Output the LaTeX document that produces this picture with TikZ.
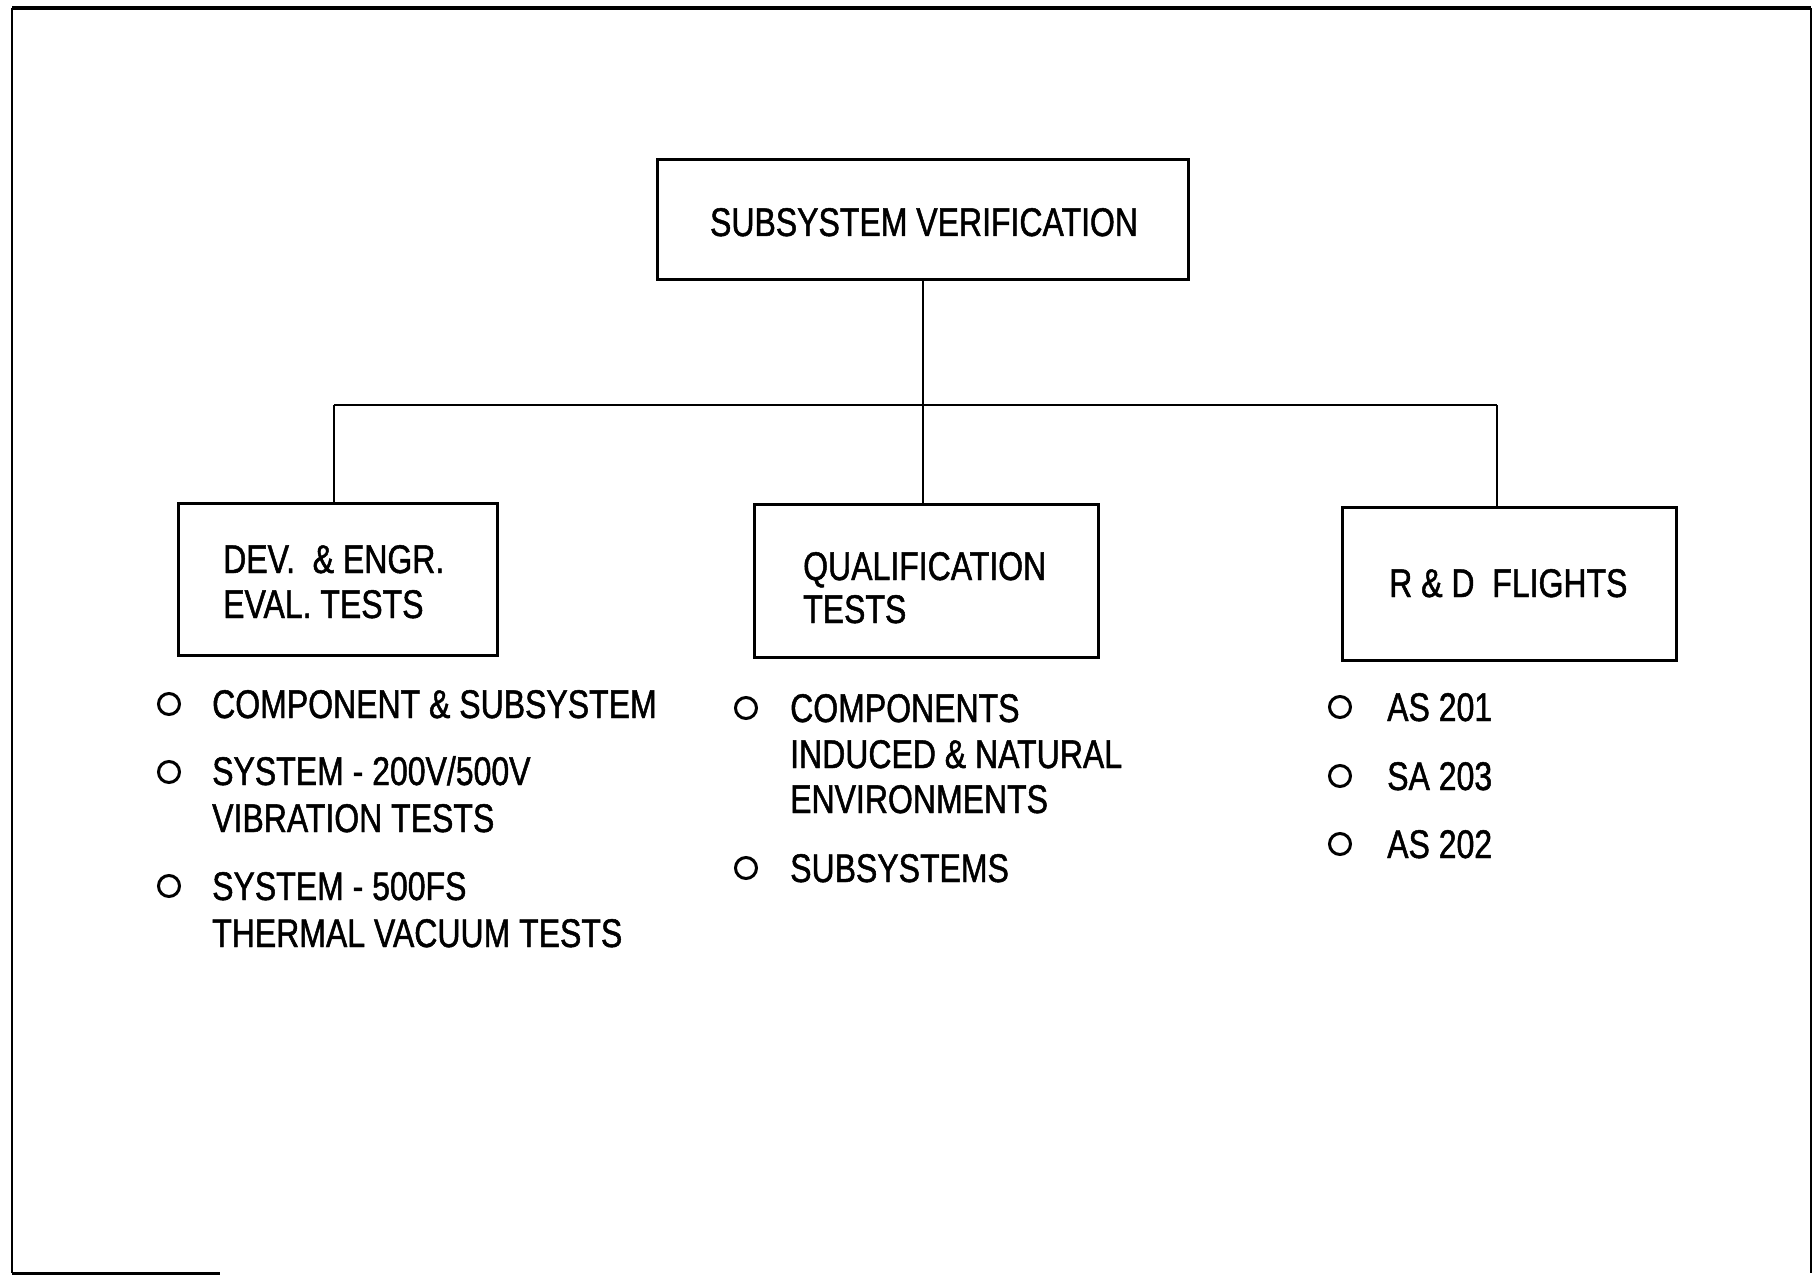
\documentclass[tikz,border=0pt]{standalone}
\usepackage{fontspec}
\setmainfont{Liberation Sans}[FakeStretch=0.8,FakeBold=1.2]
\begin{document}
\begin{tikzpicture}[x=1pt,y=-1pt,
  box/.style={draw,line width=3pt,minimum width=#1,inner sep=0pt},
  lbl/.style={anchor=base west,inner sep=0pt,font=\fontsize{40}{46}\selectfont},
  bul/.style={circle,draw,line width=3pt,minimum size=21pt,inner sep=0pt},
  conn/.style={line width=2pt}]
\useasboundingbox (0,0) rectangle (1818,1276);
% frame
\draw[line width=1.8pt] (12,1273) -- (12,8) (1811,8) -- (1811,1273);
\draw[line width=4pt] (12,8) -- (1811,8);
\draw[line width=3pt] (12,1273) -- (220,1273);
% boxes
\node[box=531pt,minimum height=119pt] (top) at (922.5,219.5) {};
\node[box=319pt,minimum height=152pt] (left) at (337.5,579) {};
\node[box=344pt,minimum height=153pt] (mid) at (926,580.5) {};
\node[box=334pt,minimum height=153pt] (right) at (1509,583.5) {};
% box texts
\node[lbl,anchor=base] (ttop) at (924,236) {SUBSYSTEM VERIFICATION};
\node[lbl] (tleftA) at (223,573) {DEV.\ \ \& ENGR.};
\node[lbl] (tleftB) at (223,618) {EVAL.\ TESTS};
\node[lbl] (tmidA) at (803,580) {QUALIFICATION};
\node[lbl] (tmidB) at (803,623) {TESTS};
\node[lbl] (tright) at (1389,597) {R \& D\ \ FLIGHTS};
% connectors
\coordinate (jl) at (334,405);
\coordinate (jr) at (1497,405);
\coordinate (jc) at (top.south |- jl);
\draw[conn] (top.south) -- (jc);
\draw[conn] (jl) -- (jr);
\draw[conn] (jl) -- (jl |- left.north);
\draw[conn] (jc) -- (jc |- mid.north);
\draw[conn] (jr) -- (jr |- right.north);
% left bullets
\node[bul] (bl1) at (169,704) {};
\node[bul] (bl2) at (169,772) {};
\node[bul] (bl3) at (169,886) {};
\node[lbl] (il1) at (212,718) {COMPONENT \& SUBSYSTEM};
\node[lbl] (il2a) at (212,785) {SYSTEM - 200V/500V};
\node[lbl] (il2b) at (212,832) {VIBRATION TESTS};
\node[lbl] (il3a) at (212,900) {SYSTEM - 500FS};
\node[lbl] (il3b) at (212,947) {THERMAL VACUUM TESTS};
% middle bullets
\node[bul] (bm1) at (746,708) {};
\node[bul] (bm2) at (746,868) {};
\node[lbl] (im1a) at (790,722) {COMPONENTS};
\node[lbl] (im1b) at (790,768) {INDUCED \& NATURAL};
\node[lbl] (im1c) at (790,813) {ENVIRONMENTS};
\node[lbl] (im2) at (790,882) {SUBSYSTEMS};
% right bullets
\node[bul] (br1) at (1340,707) {};
\node[bul] (br2) at (1340,776) {};
\node[bul] (br3) at (1340,844) {};
\node[lbl] (ir1) at (1387,721) {AS 201};
\node[lbl] (ir2) at (1387,790) {SA 203};
\node[lbl] (ir3) at (1387,858) {AS 202};
\end{tikzpicture}
\end{document}
